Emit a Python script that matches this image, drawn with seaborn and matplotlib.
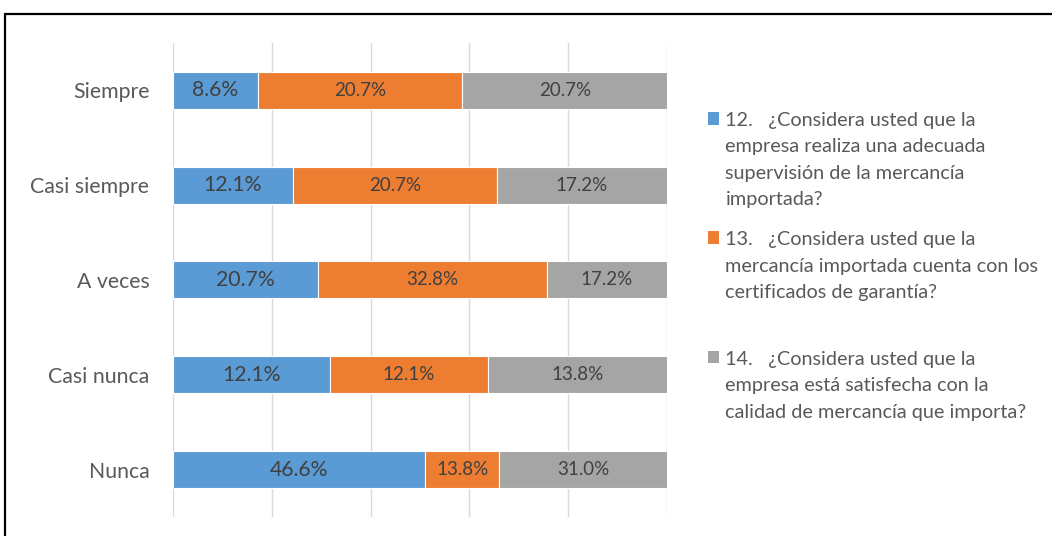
import matplotlib
matplotlib.use("Agg")
import matplotlib.pyplot as plt
from matplotlib.lines import Line2D
import numpy as np
import pandas as pd
import seaborn as sns

# Response categories (top to bottom)
categories = ["Siempre", "Casi siempre", "A veces", "Casi nunca", "Nunca"]

# Percentage of respondents per question
q12 = [8.6, 12.1, 20.7, 12.1, 46.6]
q13 = [20.7, 20.7, 32.8, 12.1, 13.8]
q14 = [20.7, 17.2, 17.2, 13.8, 31.0]

series_labels = [
    "12.   ¿Considera usted que la\nempresa realiza una adecuada\nsupervisión de la mercancía\nimportada?",
    "13.   ¿Considera usted que la\nmercancía importada cuenta con los\ncertificados de garantía?\n",
    "14.   ¿Considera usted que la\nempresa está satisfecha con la\ncalidad de mercancía que importa?",
]
colors = ["#5B9BD5", "#ED7D31", "#A5A5A5"]
label_sizes = [15.3, 13.5, 13.5]

sns.set_theme(style="white")
plt.rcParams["font.family"] = ["Lato", "DejaVu Sans"]

series = [np.array(q12), np.array(q13), np.array(q14)]
totals = sum(series)

fig = plt.figure(figsize=(10.52, 5.36), dpi=100)
ax = fig.add_axes([0.1645, 0.0355, 0.4695, 0.8843])

left = np.zeros(len(categories))
handles = []
for vals, col, lab, fs in zip(series, colors, series_labels, label_sizes):
    share = vals / totals * 100
    df = pd.DataFrame({"cat": categories, "share": share})
    sns.barplot(data=df, x="share", y="cat", order=categories, orient="y",
                color=col, width=0.39, left=left, ax=ax,
                edgecolor="white", linewidth=0.8, saturation=1)
    cont = ax.containers[-1]
    ax.bar_label(cont, labels=[f"{v:.1f}%" for v in vals], label_type="center",
                 fontsize=fs, color="#404040")
    handles.append(plt.Rectangle((0, 0), 1, 1, facecolor=col, edgecolor="none"))
    left = left + share

ax.set_xlim(0, 100)
ax.set_ylim(4.5, -0.5)
ax.set_xticks(np.arange(0, 101, 20))
ax.set_xticklabels([])
ax.grid(axis="x", color="#D9D9D9", linewidth=1)
ax.set_axisbelow(True)
for s in ax.spines.values():
    s.set_visible(False)
ax.set_xlabel("")
ax.set_ylabel("")
ax.tick_params(axis="y", length=0, pad=17, labelsize=15.3, labelcolor="#595959")
ax.tick_params(axis="x", length=0)

leg = fig.legend(handles, series_labels, loc="upper left",
                 bbox_to_anchor=(0.665, 0.806), frameon=False,
                 fontsize=14.3, labelcolor="#595959",
                 handlelength=0.6, handleheight=0.6, handletextpad=0.3,
                 labelspacing=1.15, borderaxespad=0)
for t in leg.get_texts():
    t.set_linespacing(1.68)
for column in leg._legend_handle_box.get_children():
    for row in column.get_children():
        row.align = "top"

# Chart frame edges
fig.add_artist(Line2D([0.0043, 1.0], [0.973, 0.973], transform=fig.transFigure,
                      color="black", linewidth=1.6))
fig.add_artist(Line2D([0.0043, 0.0043], [0.0, 0.973], transform=fig.transFigure,
                      color="black", linewidth=1.6))

fig.savefig("out.png", dpi=100)
